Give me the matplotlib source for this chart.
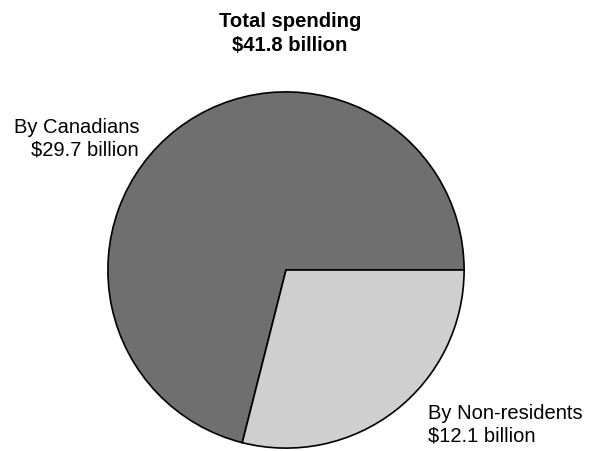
import matplotlib
matplotlib.use("Agg")
import matplotlib.pyplot as plt

# Spending shares (billions of dollars)
labels = ["By Canadians", "By Non-residents"]
values = [29.7, 12.1]
total_label = "Total spending\n$41.8 billion"
colors = ["#6f6f6f", "#cfcfcf"]

plt.rcParams["font.family"] = ["Liberation Sans", "DejaVu Sans"]

W, H = 589, 452
fig = plt.figure(figsize=(W / 100, H / 100), dpi=100)

cx, cy, r = 286, 271, 179
ax = fig.add_axes([(cx - r) / W, (H - cy - r) / H, 2 * r / W, 2 * r / H])
ax.pie(values, colors=colors, startangle=0, counterclock=True,
       wedgeprops=dict(edgecolor="black", linewidth=1.2))
ax.set_xlim(-1.005, 1.005)
ax.set_ylim(-1.005, 1.005)
ax.set_aspect("equal")
ax.axis("off")

def px(x, y):
    return x / W, 1 - y / H

fig.text(*px(290, 33.5), total_label, ha="center", va="center",
         fontsize=14.6, fontweight="bold", linespacing=1.3)
fig.text(*px(139, 139), f"{labels[0]}\n${values[0]} billion", ha="right",
         va="center", fontsize=14.5, multialignment="right", linespacing=1.25)
fig.text(*px(428, 424.5), f"{labels[1]}\n${values[1]} billion", ha="left",
         va="center", fontsize=14.5, multialignment="left", linespacing=1.25)

fig.savefig("out.png", dpi=100)
